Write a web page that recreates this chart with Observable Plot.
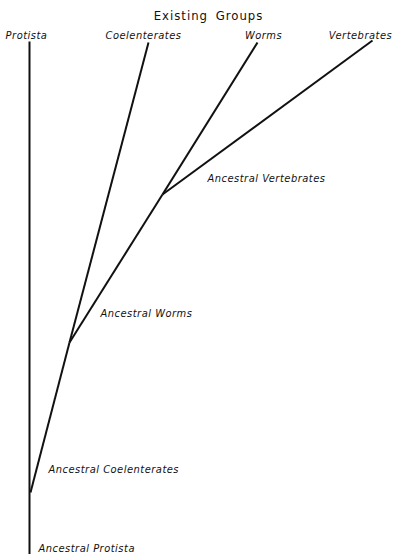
<!DOCTYPE html>
<html>
<head>
<meta charset="utf-8">
<script src="https://cdn.jsdelivr.net/npm/d3@7"></script>
<script src="https://cdn.jsdelivr.net/npm/@observablehq/plot@0.6"></script>
<style>
  html, body { margin: 0; padding: 0; background: #fff; }
  svg { display: block; }
</style>
</head>
<body>
<div id="chart"></div>
<script>
// Tree nodes: x = horizontal position, y = height above the base (evolutionary time)
const nodeNames = ["Ancestral Protista", "Ancestral Coelenterates", "Ancestral Worms", "Ancestral Vertebrates",
                   "Protista", "Coelenterates", "Worms", "Vertebrates"];
const nodeX = [29, 30, 69, 162, 29, 148, 257, 372];
const nodeY = [0, 62, 212, 360, 513, 512, 512, 514];

// Branches (parent -> child)
const edgeFrom = ["Ancestral Protista", "Ancestral Coelenterates", "Ancestral Worms", "Ancestral Worms", "Ancestral Vertebrates", "Ancestral Vertebrates"];
const edgeTo   = ["Protista", "Ancestral Worms", "Coelenterates", "Ancestral Vertebrates", "Worms", "Vertebrates"];

// Existing groups (top labels)
const groupLabels = ["Protista", "Coelenterates", "Worms", "Vertebrates"];
const groupLabelX = [26, 143, 263, 360];
const groupLabelY = [519, 519, 519, 519];

// Ancestral labels (left-anchored)
const ancLabels = ["Ancestral Vertebrates", "Ancestral Worms", "Ancestral Coelenterates", "Ancestral Protista"];
const ancLabelX = [207, 100, 48, 38];
const ancLabelY = [376, 241, 85, 6];

const title = "Existing Groups";

const pos = new Map(nodeNames.map((n, i) => [n, {x: nodeX[i], y: nodeY[i]}]));
const edges = edgeFrom.map((f, i) => ({x1: pos.get(f).x, y1: pos.get(f).y, x2: pos.get(edgeTo[i]).x, y2: pos.get(edgeTo[i]).y}));
const groups = groupLabels.map((t, i) => ({t, x: groupLabelX[i], y: groupLabelY[i]}));
const ancs = ancLabels.map((t, i) => ({t, x: ancLabelX[i], y: ancLabelY[i]}));

const font = "'DejaVu Sans Condensed', 'DejaVu Sans', sans-serif";

const chart = Plot.plot({
  width: 402,
  height: 554,
  margin: 0,
  x: {domain: [0, 402], axis: null},
  y: {domain: [0, 554], axis: null},
  style: {background: "#fff", fontFamily: font},
  marks: [
    Plot.link(edges, {x1: "x1", y1: "y1", x2: "x2", y2: "y2", stroke: "#111", strokeWidth: 2, strokeLinecap: "butt"}),
    Plot.text(groups, {x: "x", y: "y", text: "t", fontSize: 11, fontStyle: "italic", fill: "#111",
      fontFamily: font, textAnchor: "middle", stroke: "none", className: "lbl"}),
    Plot.text(ancs, {x: "x", y: "y", text: "t", fontSize: 11, fontStyle: "italic", fill: "#111",
      fontFamily: font, textAnchor: "start", stroke: "none", className: "lbl"}),
    Plot.text([title], {x: 208, y: 539, text: d => d, fontSize: 13, fill: "#111",
      fontFamily: font, textAnchor: "middle", stroke: "none"})
  ]
});
document.getElementById("chart").append(chart);
chart.querySelectorAll("text").forEach(t => {
  t.style.fontStretch = "condensed";
  if (t.textContent === title) { t.setAttribute("letter-spacing", "1"); t.setAttribute("word-spacing", "3"); }
  else t.setAttribute("letter-spacing", "0.5");
});
</script>
</body>
</html>
